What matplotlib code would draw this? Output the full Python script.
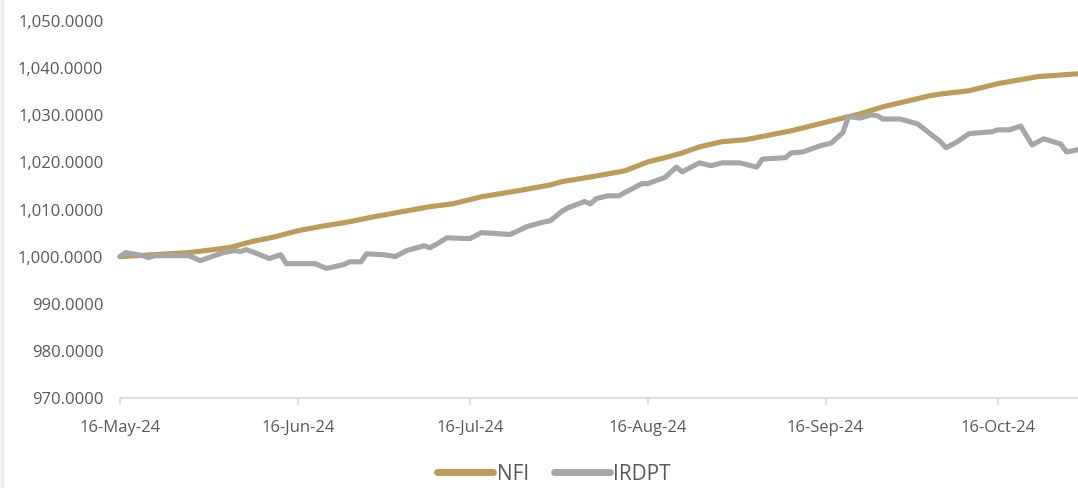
import matplotlib
matplotlib.use("Agg")
import matplotlib.pyplot as plt
from matplotlib.lines import Line2D
from matplotlib.ticker import FuncFormatter
import pandas as pd

# ---- data ----
start_date = "2024-05-16"

irdpt_days = [0, 1, 4, 5, 6, 12, 14, 16, 18, 20, 21, 22, 24, 26, 28, 29, 34, 36, 39,
              40, 42, 43, 46, 48, 50, 53, 54, 55, 57, 61, 63, 68, 71, 74, 75, 77, 78,
              81, 82, 83, 85, 87, 88, 91, 92, 95, 97, 98, 101, 103, 105, 108, 111,
              112, 116, 117, 119, 122, 124, 126, 127, 129, 131, 132, 133, 136, 139,
              141, 143, 144, 146, 148, 152, 153, 155, 157, 159, 161, 164, 165, 167]
irdpt_vals = [1000.0, 1000.85, 1000.2, 999.8, 1000.2, 1000.2, 999.15, 1000.0, 1000.85,
              1001.3, 1001.1, 1001.5, 1000.6, 999.6, 1000.4, 998.5, 998.5, 997.5, 998.3,
              998.9, 998.9, 1000.6, 1000.4, 1000.0, 1001.3, 1002.3, 1001.9, 1002.5,
              1004.0, 1003.8, 1005.1, 1004.7, 1006.4, 1007.4, 1007.6, 1009.6, 1010.3,
              1011.7, 1011.2, 1012.3, 1012.9, 1012.9, 1013.6, 1015.5, 1015.5, 1016.8,
              1019.0, 1018.0, 1019.9, 1019.3, 1019.9, 1019.9, 1019.0, 1020.7, 1021.0,
              1022.0, 1022.2, 1023.5, 1024.1, 1026.3, 1029.7, 1029.4, 1030.1, 1029.9,
              1029.2, 1029.2, 1028.2, 1026.3, 1024.4, 1023.1, 1024.4, 1026.1, 1026.5,
              1026.9, 1026.9, 1027.7, 1023.7, 1025.0, 1023.9, 1022.2, 1022.7]

nfi_days = [0, 12, 19, 23, 27, 31, 35, 40, 44, 49, 54, 58, 63, 69, 75, 77, 82, 88, 92,
            95, 98, 101, 105, 109, 117, 124, 129, 133, 139, 141, 143, 148, 153, 160, 167]
nfi_vals = [1000.0, 1000.85, 1001.9, 1003.2, 1004.2, 1005.5, 1006.4, 1007.4, 1008.4,
            1009.5, 1010.6, 1011.2, 1012.7, 1013.9, 1015.2, 1015.9, 1016.9, 1018.2,
            1020.1, 1021.0, 1022.0, 1023.3, 1024.4, 1024.8, 1026.7, 1028.8, 1030.3,
            1031.8, 1033.5, 1034.1, 1034.5, 1035.2, 1036.7, 1038.2, 1038.8]

x_tick_labels = ["16-May-24", "16-Jun-24", "16-Jul-24", "16-Aug-24", "16-Sep-24", "16-Oct-24"]
y_ticks = [970, 980, 990, 1000, 1010, 1020, 1030, 1040, 1050]
series_names = ["NFI", "IRDPT"]

# ---- figure ----
plt.rcParams["font.family"] = ["Open Sans", "DejaVu Sans"]
fig = plt.figure(figsize=(10.78, 4.88), dpi=100)
ax = fig.add_axes([120 / 1078, 1 - 398 / 488, 958 / 1078, (398 - 21) / 488])

t0 = pd.Timestamp(start_date)
irdpt_dates = [t0 + pd.Timedelta(days=d) for d in irdpt_days]
nfi_dates = [t0 + pd.Timedelta(days=d) for d in nfi_days]

gold = "#BD9B58"
grey = "#A6A6A6"
ax.plot(nfi_dates, nfi_vals, color=gold, lw=3.7, solid_capstyle="round",
        solid_joinstyle="round", label=series_names[0], clip_on=False)
ax.plot(irdpt_dates, irdpt_vals, color=grey, lw=3.7, solid_capstyle="round",
        solid_joinstyle="round", label=series_names[1], clip_on=False)

ax.set_xlim(t0, t0 + pd.Timedelta(days=max(nfi_days)))
ax.set_ylim(970, 1050)

xt = [pd.Timestamp(pd.to_datetime(s, format="%d-%b-%y")) for s in x_tick_labels]
ax.set_xticks(xt)
ax.set_xticklabels(x_tick_labels)
ax.set_yticks(y_ticks)
ax.yaxis.set_major_formatter(FuncFormatter(lambda v, p: f"{v:,.4f}"))

for s in ["top", "right", "left"]:
    ax.spines[s].set_visible(False)
ax.spines["bottom"].set_color("#D9D9D9")
ax.spines["bottom"].set_linewidth(1.2)
ax.tick_params(axis="x", colors="#D9D9D9", length=5, width=1.2, labelcolor="#595959",
               labelsize=12, pad=11)
ax.tick_params(axis="y", length=0, labelcolor="#595959", labelsize=12, pad=12)

leg = fig.legend(loc="center", bbox_to_anchor=(554 / 1078, 1 - 474 / 488), ncol=2,
                 frameon=False, fontsize=15, handlelength=2.7, handletextpad=0.15,
                 columnspacing=1.2, labelcolor="#595959")
for h in leg.get_lines():
    h.set_linewidth(5)
    h.set_solid_capstyle("round")

fig.add_artist(Line2D([0.0015, 0.0015], [0, 1], color="#EBEBEB", lw=2.5,
                      transform=fig.transFigure))

fig.savefig("out.png", dpi=100, facecolor="white")
